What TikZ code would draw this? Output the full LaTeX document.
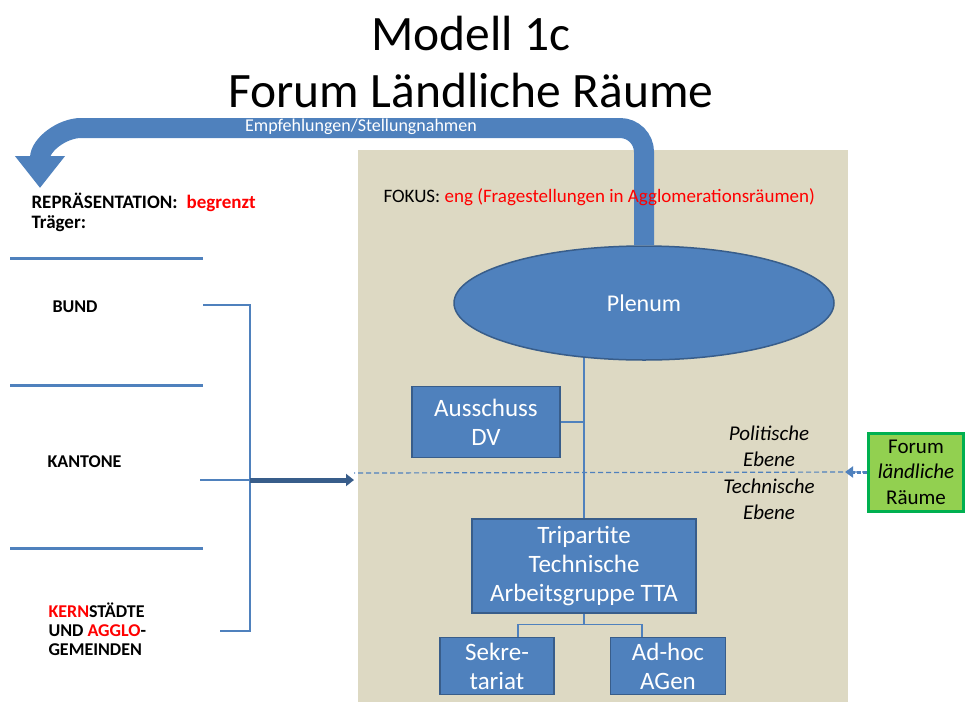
\documentclass[tikz,border=0pt]{standalone}
\usepackage{fontspec}
\setmainfont{Carlito}
\usetikzlibrary{arrows.meta,calc,shapes.geometric}
\definecolor{ofblue}{HTML}{4F81BD}
\definecolor{ofdark}{HTML}{385D8A}
\definecolor{oftan}{HTML}{DDD9C3}
\definecolor{ofgreen}{HTML}{92D050}
\definecolor{ofgreenline}{HTML}{00B050}
\newcommand{\rt}[1]{\textcolor{red}{#1}}
\newcommand{\fsz}[2]{\fontsize{#1}{#2}\selectfont}
\tikzset{
  box/.style={rectangle, fill=ofblue, draw=ofdark, line width=1.5pt, text=white,
    align=center, font=\fsz{25}{29}, inner sep=0pt},
  level/.style={font=\fsz{21}{26}\itshape, align=center},
  unit/.style={font=\fsz{18}{19}\bfseries, anchor=west, align=left},
  conn/.style={ofblue, line width=1.2pt},
  sepline/.style={ofblue, line width=3pt},
  brace/.style={ofblue, line width=2.2pt},
}

\begin{document}
\begin{tikzpicture}[x=1pt, y=-1pt]
  \useasboundingbox (0,0) rectangle (967,702);
  % title
  \node[font=\fsz{49.5}{52}] (title1) at (471,33) {Modell 1c};
  \node[font=\fsz{49.5}{52}] (title2) at (471,90) {Forum Ländliche Räume};

  % forum area
  \fill[oftan] (358,150) rectangle (848,702);

  % organs
  \node[ellipse, fill=ofblue, draw=ofdark, line width=1.5pt, text=white,
    minimum width=380pt, minimum height=114pt, font=\fsz{24}{28}] (plenum) at (644,303) {Plenum};
  \node[box, minimum width=148pt, minimum height=71pt] (aus) at (486,422) {Ausschuss\\DV};
  \node[box, minimum width=224pt, minimum height=94pt] (tta) at (584,566)
    {Tripartite\\Technische\\Arbeitsgruppe TTA};
  \node[box, minimum width=114pt, minimum height=57pt] (sek) at (497,666) {Sekre-\\tariat};
  \node[box, minimum width=115pt, minimum height=57pt] (adhoc) at (668,666) {Ad-hoc\\AGen};

  \draw[conn] (tta.north) -- ($(tta.north |- plenum.south)+(0,-3)$);
  \draw[conn] (aus.east) -- (aus.east -| tta.north);
  \draw[conn] (tta.south) -- ++(0,11) coordinate (fork);
  \draw[conn] ($(sek.north)+(21,0)$) |- (fork) -| ($(adhoc.north)+(-26,0)$);

  % recommendation arrow
  \draw[ofblue, line width=20pt, rounded corners=24pt, -{Triangle[width=48pt,length=32pt]}]
    (plenum.north) |- (105,128) .. controls (62,128) and (40,145) .. (40,188);
  \node[white, font=\fsz{18}{20}] (empf) at (361,127) {Empfehlungen/Stellungnahmen};
  \node[anchor=west, font=\fsz{19}{22}] (fokus) at (380,197)
    {FOKUS: \rt{eng (Fragestellungen in Agglomerationsräumen)}};

  % left column
  \node[anchor=west, font=\fsz{19}{21}\bfseries] (repr) at (28,202)
    {REPRÄSENTATION:\hspace{9pt}\rt{begrenzt}};
  \node[anchor=west, font=\fsz{19}{21}\bfseries] (traeger) at (28,224) {Träger:};
  \draw[sepline] (10,258) -- (203,258);
  \draw[sepline] (10,385) -- (203,385);
  \draw[sepline] (10,548) -- (203,548);
  \node[unit] (bund) at (49,307) {BUND};
  \node[unit] (kantone) at (44,462) {KANTONE};
  \node[unit] (kern) at (45,629) {\rt{KERN}STÄDTE\\UND \rt{AGGLO}-\\GEMEINDEN};

  % bracket
  \coordinate (brTop) at (250,305);
  \coordinate (brMid) at (250,480);
  \coordinate (brBot) at (250,631);
  \draw[brace] (203,305) -- (brTop) -- (brBot) -- (220,631);
  \draw[brace] (200,480) -- (brMid);

  % levels
  \node[level] (polit) at (769,446) {Politische\\Ebene};
  \node[level] (techn) at (769,499) {Technische\\Ebene};
  \node[rectangle, fill=ofgreen, draw=ofgreenline, line width=3pt, align=center,
    minimum width=95pt, minimum height=78pt, inner sep=0pt, font=\fsz{21}{25.5}] (forum) at (916,472)
    {Forum\\\textit{ländliche}\\Räume};
  \coordinate (lvlW) at (354,473);
  \draw[ofblue, line width=1.2pt, dash pattern=on 5pt off 3pt] (forum.west) -- (lvlW);
  \draw[ofblue, line width=3pt, dash pattern=on 4pt off 2pt, -{Triangle[width=11pt,length=8pt]}]
    (forum.west) -- ++(-22,0);
  \draw[ofdark, line width=5pt, -{Triangle[width=12pt,length=8pt]}] (brMid) -- (brMid -| lvlW);
\end{tikzpicture}
\end{document}
